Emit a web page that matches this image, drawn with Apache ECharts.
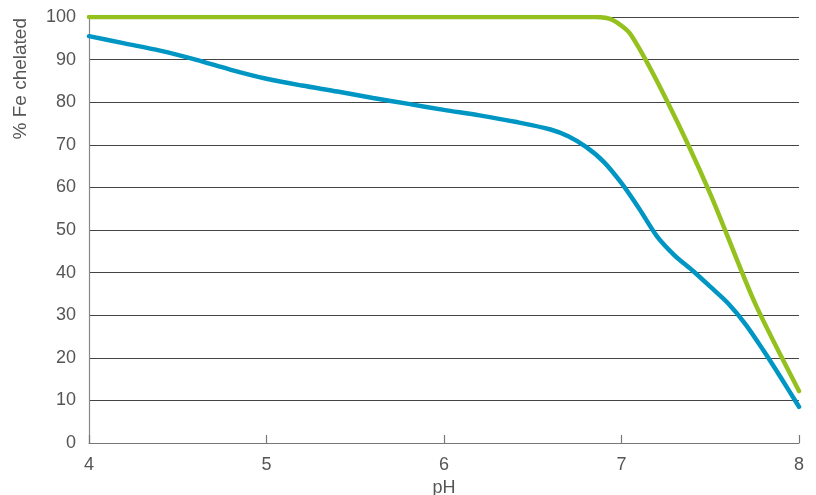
<!DOCTYPE html>
<html>
<head>
<meta charset="utf-8">
<script src="https://cdn.jsdelivr.net/npm/echarts@6/dist/echarts.min.js"></script>
<style>
html,body{margin:0;padding:0;background:#fff;}
#chart{width:816px;height:495px;}
</style>
</head>
<body>
<div id="chart"></div>
<script>
var xTicks = [4, 5, 6, 7, 8];
var yTicks = [0, 10, 20, 30, 40, 50, 60, 70, 80, 90, 100];

var greenPH = [4.0, 5.0, 6.0, 6.85, 6.95, 7.05, 7.26, 7.5, 7.75, 8.0];
var greenVal = [100, 100, 100, 100, 99.3, 96, 80, 58.5, 33, 12.2];

var bluePH = [4.0, 4.2, 4.4, 4.6, 4.8, 5.0, 5.2, 5.4, 5.6, 5.8, 6.0, 6.2, 6.4, 6.6, 6.7, 6.8, 6.9, 7.0, 7.1, 7.2, 7.3, 7.4, 7.5, 7.6, 7.7, 7.8, 7.9, 8.0];
var blueVal = [95.5, 93.8, 92.1, 90.0, 87.6, 85.5, 83.9, 82.5, 81.0, 79.6, 78.2, 76.9, 75.4, 73.6, 72.0, 69.5, 66, 61, 55, 48.5, 44, 40.5, 36.7, 32.8, 27.8, 21.7, 15.2, 8.5];

function pairs(xs, ys) { return xs.map(function (x, i) { return [x, ys[i]]; }); }

var font = "'Liberation Sans', 'DejaVu Sans', sans-serif";
var chart = echarts.init(document.getElementById('chart'));
chart.setOption({
  animation: false,
  grid: { left: 89, right: 17, top: 17, bottom: 52, containLabel: false, outerBoundsMode: 'none' },
  xAxis: {
    type: 'value', min: xTicks[0], max: xTicks[xTicks.length - 1], interval: 1,
    name: 'pH', nameLocation: 'middle', nameGap: 36,
    nameTextStyle: { color: '#555', fontSize: 18, fontFamily: font },
    axisLine: { show: true, lineStyle: { color: '#777', width: 1.2 } },
    axisTick: { show: true, inside: true, length: 8, lineStyle: { color: '#777', width: 1.2 } },
    axisLabel: { color: '#555', fontSize: 18, fontFamily: font, margin: 13 },
    splitLine: { show: false }
  },
  yAxis: {
    type: 'value', min: yTicks[0], max: yTicks[yTicks.length - 1], interval: 10,
    axisLine: { show: true, lineStyle: { color: '#888', width: 1.2 } },
    axisTick: { show: false },
    axisLabel: { color: '#555', fontSize: 18, fontFamily: font, margin: 13 },
    splitLine: { show: true, lineStyle: { color: '#444', width: 1 } }
  },
  graphic: [{
    type: 'text', left: 11, top: 18, rotation: Math.PI / 2,
    style: { text: '% Fe chelated', fill: '#555', font: '19px ' + font }
  }],
  series: [
    {
      type: 'line', data: pairs(bluePH, blueVal), smooth: 0.3,
      showSymbol: false, lineStyle: { color: '#0096C4', width: 4.5, cap: 'round' }
    },
    {
      type: 'line', data: pairs(greenPH, greenVal), smooth: 0.25,
      showSymbol: false, lineStyle: { color: '#95C11F', width: 4.5, cap: 'round' }
    }
  ]
});
</script>
</body>
</html>
